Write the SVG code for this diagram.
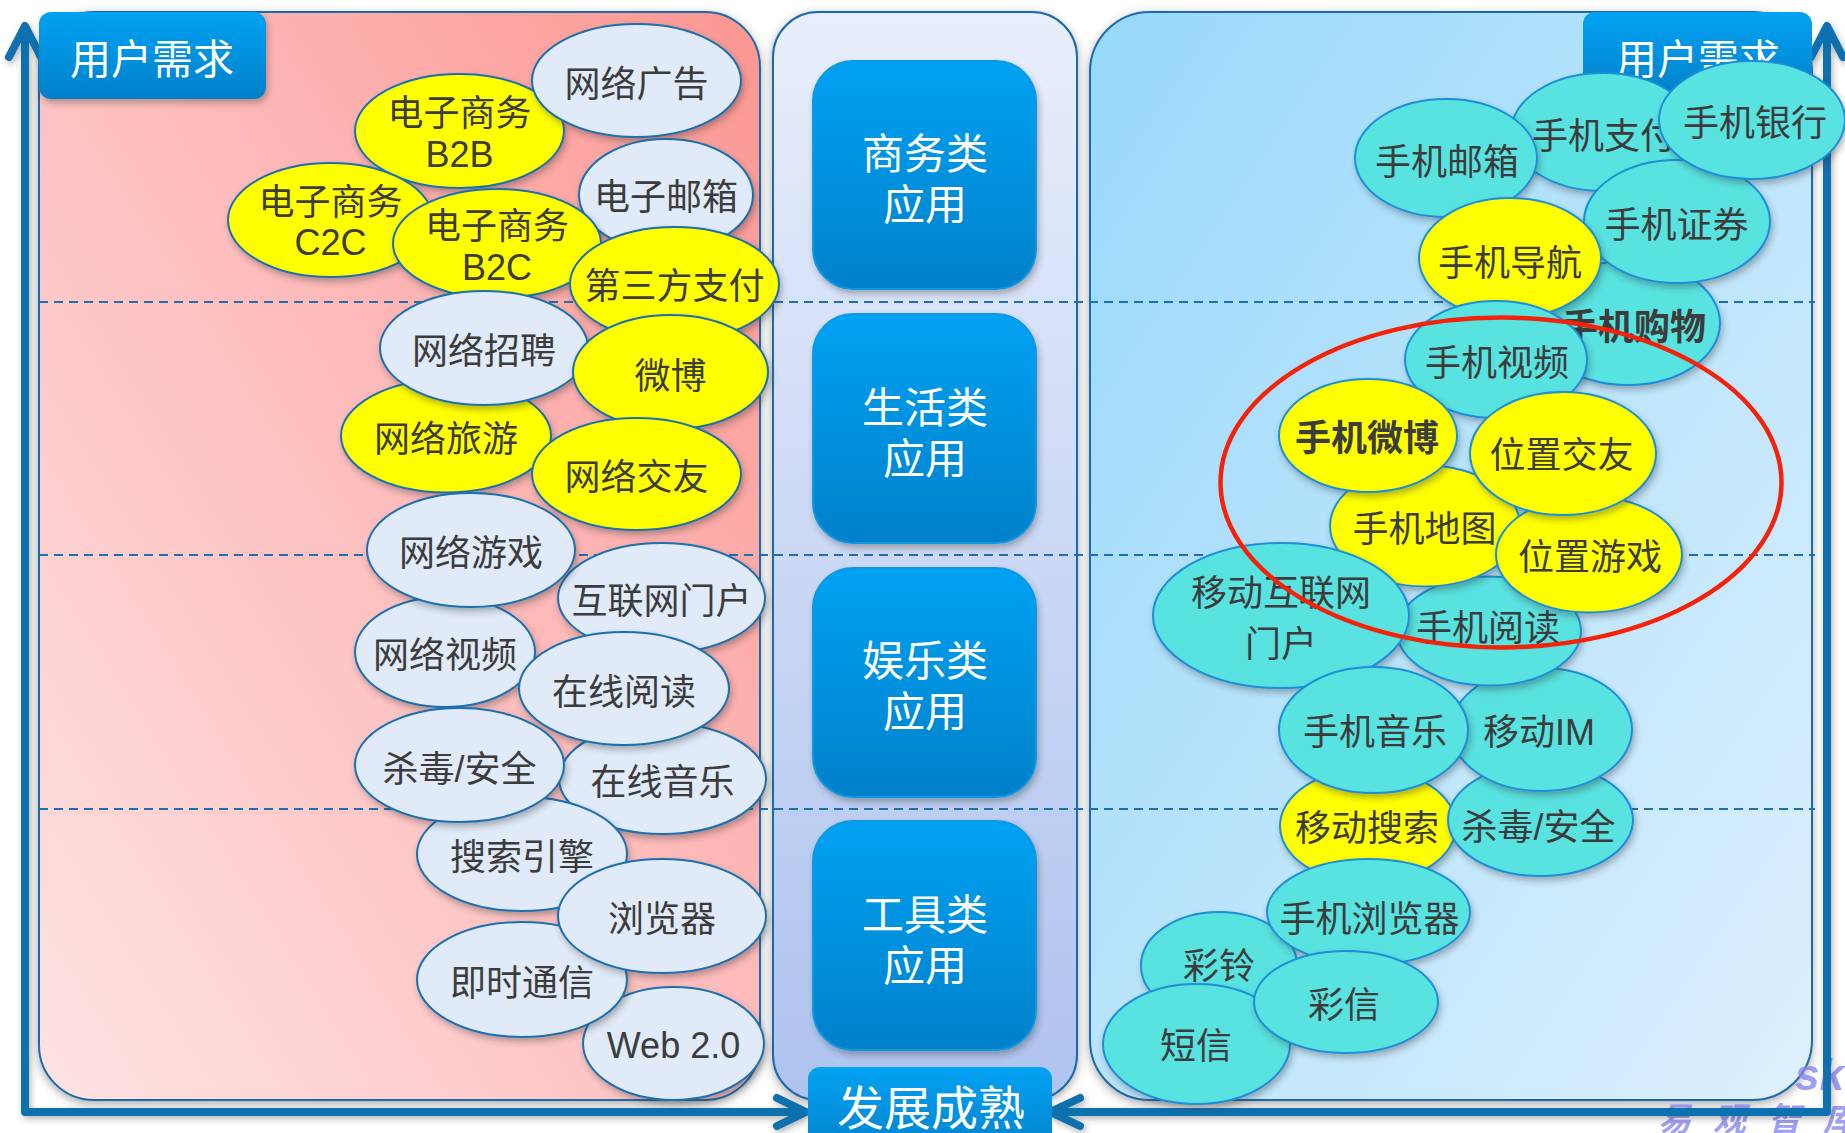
<svg xmlns="http://www.w3.org/2000/svg" width="1845" height="1133" viewBox="0 0 1845 1133">
<defs>
<linearGradient id="gLeft" x1="0" y1="1" x2="1" y2="0.05">
<stop offset="0" stop-color="#fee3e3"/><stop offset="0.55" stop-color="#fdbcbb"/><stop offset="1" stop-color="#fc9893"/>
</linearGradient>
<linearGradient id="gMid" x1="0" y1="0" x2="0" y2="1">
<stop offset="0" stop-color="#e8eefb"/><stop offset="1" stop-color="#aec3ef"/>
</linearGradient>
<linearGradient id="gRight" x1="0" y1="0" x2="1" y2="1">
<stop offset="0" stop-color="#97d8fa"/><stop offset="1" stop-color="#def0fd"/>
</linearGradient>
<linearGradient id="gBlue" x1="0" y1="0" x2="0" y2="1">
<stop offset="0" stop-color="#03a2f3"/><stop offset="1" stop-color="#0280c9"/>
</linearGradient>
<filter id="shP" x="-10%" y="-10%" width="120%" height="120%">
<feDropShadow dx="0" dy="3" stdDeviation="5" flood-color="#404040" flood-opacity="0.45"/>
</filter>
<filter id="shE" x="-20%" y="-20%" width="140%" height="150%">
<feDropShadow dx="2" dy="4" stdDeviation="3" flood-color="#303030" flood-opacity="0.35"/>
</filter>
<filter id="shA" x="-20%" y="-5%" width="140%" height="110%">
<feDropShadow dx="2" dy="3" stdDeviation="3" flood-color="#303030" flood-opacity="0.35"/>
</filter>
<style>
.panel{stroke:#1a6bab;stroke-width:2}
.dash{stroke:#1c6fb0;stroke-width:2;stroke-dasharray:9 6;fill:none}
.box{fill:url(#gBlue);stroke:#0a98e4;stroke-width:2;filter:url(#shE)}
.btx{font-family:"Noto Sans CJK SC",sans-serif;fill:#ffffff;text-anchor:middle}
.e{stroke-width:2;filter:url(#shE)}
.lb{fill:#e0eaf8;stroke:#1b6fae}
.yl{fill:#ffff00;stroke:#1b6fae}
.yr{fill:#ffff00;stroke:#1b8fd8}
.tq{fill:#59e2e0;stroke:#1b8fd8}
.tx{font-family:"Liberation Sans","Noto Sans CJK SC",sans-serif;font-size:36px;fill:#3c3c3c;text-anchor:middle}
.bd{font-weight:bold}
.ax{stroke:#0f6faf;stroke-width:8;fill:none;stroke-linecap:round;stroke-linejoin:round}
</style>
</defs>
<rect width="1845" height="1133" fill="#ffffff"/>

<!-- panels -->
<g id="panel-left"><rect class="panel" x="39" y="12" width="721" height="1088" rx="55" fill="url(#gLeft)" filter="url(#shP)"/></g>
<g id="panel-mid"><rect class="panel" x="773" y="12" width="304" height="1088" rx="45" fill="url(#gMid)" filter="url(#shP)"/></g>
<g id="panel-right"><rect class="panel" x="1090" y="12" width="722" height="1088" rx="60" fill="url(#gRight)" filter="url(#shP)"/></g>

<g id="watermark" fill="#8585f0" fill-opacity="0.8" font-family="Liberation Sans,'Noto Sans CJK SC',sans-serif" font-weight="bold" font-style="italic">
<text x="1795" y="1090" font-size="44">sk</text>
<text x="1658" y="1131" font-size="33" letter-spacing="22">易观智库</text>
</g>

<g id="dividers">
<line class="dash" x1="39" y1="302" x2="1815" y2="302"/>
<line class="dash" x1="39" y1="555" x2="1815" y2="555"/>
<line class="dash" x1="39" y1="809" x2="1815" y2="809"/>
</g>

<!-- connectors: axes -->
<g id="connectors" filter="url(#shA)">
<path class="ax" d="M25 27 V1112 H803"/>
<path class="ax" d="M9 57 L25 26 L41 57"/>
<path class="ax" d="M777 1098 L806 1112 L777 1126"/>
<path class="ax" d="M1827 27 V1112 H1052"/>
<path class="ax" d="M1811 57 L1827 26 L1843 57"/>
<path class="ax" d="M1080 1098 L1050 1112 L1080 1126"/>
</g>

<g id="label-left-demand"><rect x="39" y="12" width="227" height="87" rx="12" fill="url(#gBlue)" filter="url(#shE)"/><text class="btx" x="152" y="74" font-size="41">用户需求</text></g>
<g id="label-right-demand"><rect x="1583" y="12" width="229" height="87" rx="12" fill="url(#gBlue)"/><text class="btx" x="1698" y="74" font-size="41">用户需求</text></g>

<!-- middle category boxes -->
<g id="cat-business"><rect class="box" x="813" y="61" width="223" height="228" rx="40"/><text class="btx" x="925" y="169" font-size="42">商务类<tspan x="925" dy="51">应用</tspan></text></g>
<g id="cat-life"><rect class="box" x="813" y="314" width="223" height="229" rx="40"/><text class="btx" x="925" y="423" font-size="42">生活类<tspan x="925" dy="51">应用</tspan></text></g>
<g id="cat-ent"><rect class="box" x="813" y="568" width="223" height="229" rx="40"/><text class="btx" x="925" y="676" font-size="42">娱乐类<tspan x="925" dy="51">应用</tspan></text></g>
<g id="cat-tool"><rect class="box" x="813" y="821" width="223" height="229" rx="40"/><text class="btx" x="925" y="930" font-size="42">工具类<tspan x="925" dy="51">应用</tspan></text></g>
<g id="label-mature"><rect x="808" y="1067" width="244" height="90" rx="12" fill="url(#gBlue)"/><text class="btx" x="931" y="1125" font-size="47">发展成熟</text></g>

<!-- left: internet applications -->
<g id="l-b2b"><ellipse class="e yl" cx="459.5" cy="131" rx="104.5" ry="57"/><text class="tx" x="459.5" y="126">电子商务<tspan x="459.5" dy="41">B2B</tspan></text></g>
<g id="l-ad"><ellipse class="e lb" cx="636.5" cy="80.5" rx="104.5" ry="56.5"/><text class="tx" x="636.5" y="97">网络广告</text></g>
<g id="l-c2c"><ellipse class="e yl" cx="330.5" cy="220" rx="102.5" ry="57"/><text class="tx" x="330.5" y="215">电子商务<tspan x="330.5" dy="40">C2C</tspan></text></g>
<g id="l-mail"><ellipse class="e lb" cx="666" cy="195" rx="87" ry="56"/><text class="tx" x="666" y="210">电子邮箱</text></g>
<g id="l-b2c"><ellipse class="e yl" cx="497" cy="243.5" rx="104" ry="54.5"/><text class="tx" x="497" y="239">电子商务<tspan x="497" dy="41">B2C</tspan></text></g>
<g id="l-pay"><ellipse class="e yl" cx="674.5" cy="284" rx="104.5" ry="57"/><text class="tx" x="674.5" y="299">第三方支付</text></g>
<g id="l-travel"><ellipse class="e yl" cx="446" cy="436" rx="105" ry="56.5"/><text class="tx" x="446" y="452">网络旅游</text></g>
<g id="l-job"><ellipse class="e lb" cx="484" cy="348" rx="104" ry="57"/><text class="tx" x="484" y="364">网络招聘</text></g>
<g id="l-weibo"><ellipse class="e yl" cx="670.5" cy="372" rx="97.5" ry="57"/><text class="tx" x="670.5" y="389">微博</text></g>
<g id="l-friend"><ellipse class="e yl" cx="636.5" cy="474" rx="104.5" ry="56"/><text class="tx" x="636.5" y="490">网络交友</text></g>
<g id="l-video"><ellipse class="e lb" cx="445" cy="652" rx="90" ry="55"/><text class="tx" x="445" y="668">网络视频</text></g>
<g id="l-portal"><ellipse class="e lb" cx="661.5" cy="598" rx="103.5" ry="55"/><text class="tx" x="661.5" y="614">互联网门户</text></g>
<g id="l-game"><ellipse class="e lb" cx="471" cy="550" rx="104" ry="57"/><text class="tx" x="471" y="566">网络游戏</text></g>
<g id="l-music"><ellipse class="e lb" cx="662.5" cy="778.5" rx="103.5" ry="55.5"/><text class="tx" x="662.5" y="795">在线音乐</text></g>
<g id="l-read"><ellipse class="e lb" cx="624" cy="688.5" rx="105" ry="56.5"/><text class="tx" x="624" y="705">在线阅读</text></g>
<g id="l-search"><ellipse class="e lb" cx="522" cy="854" rx="105" ry="57"/><text class="tx" x="522" y="870">搜索引擎</text></g>
<g id="l-av"><ellipse class="e lb" cx="459.5" cy="765" rx="104.5" ry="57"/><text class="tx" x="459.5" y="782">杀毒/安全</text></g>
<g id="l-web20"><ellipse class="e lb" cx="673.5" cy="1043.5" rx="90.5" ry="56.5"/><text class="tx" x="673.5" y="1058">Web 2.0</text></g>
<g id="l-im"><ellipse class="e lb" cx="522" cy="979.5" rx="105" ry="57.5"/><text class="tx" x="522" y="996">即时通信</text></g>
<g id="l-browser"><ellipse class="e lb" cx="662" cy="916" rx="104" ry="57"/><text class="tx" x="662" y="932">浏览器</text></g>

<!-- right: mobile internet applications -->
<g id="r-search"><ellipse class="e yr" cx="1368" cy="826" rx="88" ry="57"/><text class="tx" x="1367" y="841">移动搜索</text></g>
<g id="r-av"><ellipse class="e tq" cx="1540.5" cy="820" rx="92.5" ry="56"/><text class="tx" x="1538.5" y="840">杀毒/安全</text></g>
<g id="r-pay"><ellipse class="e tq" cx="1603" cy="132" rx="92" ry="59"/><text class="tx" x="1604" y="149">手机支付</text></g>
<g id="r-mail"><ellipse class="e tq" cx="1446" cy="158" rx="91" ry="59"/><text class="tx" x="1447" y="175">手机邮箱</text></g>
<g id="r-shop"><ellipse class="e tq" cx="1628" cy="323" rx="92" ry="62"/><text class="tx bd" x="1634" y="340">手机购物</text></g>
<g id="r-stock"><ellipse class="e tq" cx="1677" cy="221.5" rx="93" ry="61.5"/><text class="tx" x="1676.5" y="238">手机证券</text></g>
<g id="r-bank"><ellipse class="e tq" cx="1752" cy="120" rx="93" ry="59"/><text class="tx" x="1755" y="136">手机银行</text></g>
<g id="r-nav"><ellipse class="e yr" cx="1510" cy="258" rx="91" ry="60"/><text class="tx" x="1510" y="276">手机导航</text></g>
<g id="r-video"><ellipse class="e tq" cx="1496" cy="359.5" rx="91" ry="58.5"/><text class="tx" x="1497" y="376">手机视频</text></g>
<g id="r-im"><ellipse class="e tq" cx="1541.5" cy="729.5" rx="90.5" ry="61.5"/><text class="tx" x="1539" y="745">移动IM</text></g>
<g id="r-read"><ellipse class="e tq" cx="1489" cy="631" rx="92" ry="54.5"/><text class="tx" x="1488" y="641">手机阅读</text></g>
<g id="r-map"><ellipse class="e yr" cx="1425" cy="526" rx="95" ry="60.5"/><text class="tx" x="1424.5" y="542">手机地图</text></g>
<g id="r-weibo"><ellipse class="e yr" cx="1368" cy="435.5" rx="89" ry="56.5"/><text class="tx bd" x="1367" y="451">手机微博</text></g>
<g id="r-locgame"><ellipse class="e yr" cx="1589" cy="554.5" rx="93" ry="58"/><text class="tx" x="1590" y="570">位置游戏</text></g>
<g id="r-locfriend"><ellipse class="e yr" cx="1563" cy="453.5" rx="93" ry="61.5"/><text class="tx" x="1561.5" y="468">位置交友</text></g>
<g id="r-portal"><ellipse class="e tq" cx="1281" cy="615.5" rx="128" ry="72.5"/><text class="tx" x="1281" y="606">移动互联网<tspan x="1281" dy="51">门户</tspan></text></g>
<g id="r-music"><ellipse class="e tq" cx="1373.5" cy="730" rx="94.5" ry="63"/><text class="tx" x="1375" y="745">手机音乐</text></g>
<g id="r-ring"><ellipse class="e tq" cx="1219" cy="965.5" rx="78" ry="53.5"/><text class="tx" x="1219" y="979">彩铃</text></g>
<g id="r-browser"><ellipse class="e tq" cx="1368.5" cy="912" rx="101.5" ry="53"/><text class="tx" x="1369.5" y="932">手机浏览器</text></g>
<g id="r-sms"><ellipse class="e tq" cx="1196.5" cy="1044" rx="93.5" ry="60"/><text class="tx" x="1196" y="1059">短信</text></g>
<g id="r-mms"><ellipse class="e tq" cx="1346" cy="1002" rx="92" ry="51"/><text class="tx" x="1344" y="1018">彩信</text></g>

<g id="highlight"><ellipse cx="1501" cy="482.5" rx="280.5" ry="165" fill="none" stroke="#f5220a" stroke-width="4.5"/></g>
</svg>
